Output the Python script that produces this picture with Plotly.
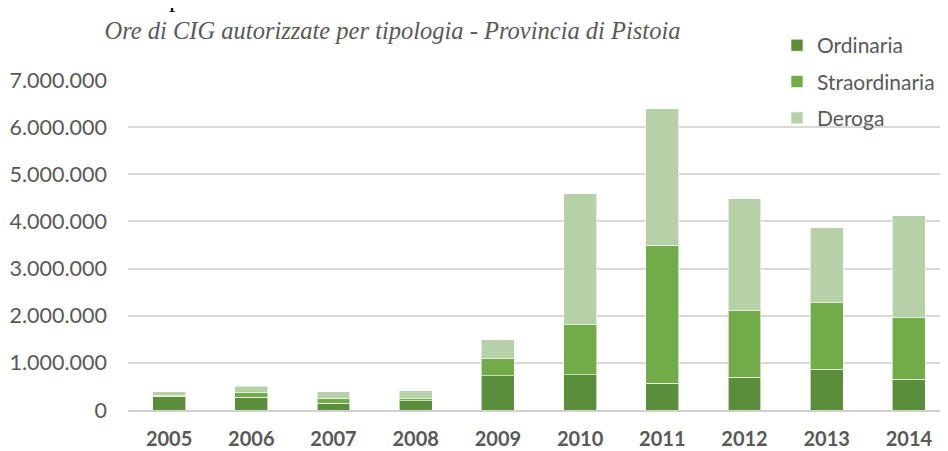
import plotly.graph_objects as go

years = ["2005", "2006", "2007", "2008", "2009", "2010", "2011", "2012", "2013", "2014"]
ordinaria = [290000, 270000, 145000, 195000, 730000, 750000, 570000, 690000, 860000, 650000]
straordinaria = [10000, 95000, 100000, 45000, 360000, 1060000, 2920000, 1420000, 1420000, 1310000]
deroga = [90000, 140000, 145000, 170000, 400000, 2780000, 2900000, 2370000, 1590000, 2160000]
y_ticks = [0, 1000000, 2000000, 3000000, 4000000, 5000000, 6000000, 7000000]
y_tick_labels = ["0", "1.000.000", "2.000.000", "3.000.000", "4.000.000", "5.000.000", "6.000.000", "7.000.000"]

colors = {"Ordinaria": "#5B8E3A", "Straordinaria": "#72AC48", "Deroga": "#B6D0A8"}

fig = go.Figure()
for name, vals in [("Ordinaria", ordinaria), ("Straordinaria", straordinaria), ("Deroga", deroga)]:
    fig.add_trace(go.Bar(
        x=years, y=vals, name=name, legendgroup=name,
        marker=dict(color=colors[name], line=dict(color="rgba(255,255,255,0.6)", width=1)),
    ))

# the page shows the figure offset by the 8px body margin
W, H = 942, 443
ml, mr, mt, mb = 120, 0, 72, 40.5
plot_h = H - mt - mb
plot_w = W - ml - mr

fig.update_layout(
    width=W, height=H,
    margin=dict(l=ml, r=mr, t=mt, b=mb, autoexpand=False),
    barmode="stack", bargap=0.6,
    plot_bgcolor="white", paper_bgcolor="white",
    font=dict(family="Lato", color="#595959"),
    title=dict(
        text="Ore di CIG autorizzate per tipologia - Provincia di Pistoia",
        font=dict(family="Liberation Serif", size=24.5, color="#595959", style="italic"),
        x=384.5 / W, xanchor="center", xref="container",
        y=1 - 22 / H, yanchor="middle", yref="container",
    ),
    legend=dict(
        x=(769 - ml) / plot_w, xanchor="left",
        y=(H - mb - 17) / plot_h, yanchor="top", yref="paper",
        bgcolor="rgba(0,0,0,0)", font=dict(size=21, color="#595959"),
        traceorder="grouped", tracegroupgap=6,
    ),
    xaxis=dict(
        tickfont=dict(size=20, color="#595959", weight="bold"),
        showgrid=False, showline=True, linecolor="#D0D0D0", linewidth=2,
        ticks="", ticklabelstandoff=10, automargin=False,
    ),
    yaxis=dict(
        range=[0, 7000000], tickvals=y_ticks, ticktext=y_tick_labels,
        tickfont=dict(size=21.5, color="#595959"),
        showgrid=True, gridcolor="#D9D9D9", gridwidth=1.5,
        zeroline=False, showline=False, ticks="",
        ticklabelstandoff=20, automargin=False,
    ),
    annotations=[dict(
        text="p", xref="paper", yref="paper",
        x=(167 - ml) / plot_w, y=(H - mb + 10) / plot_h,
        xanchor="center", yanchor="middle", showarrow=False,
        font=dict(family="Liberation Serif", size=26, color="#000000"),
    )],
)

fig.write_html("out.html")
